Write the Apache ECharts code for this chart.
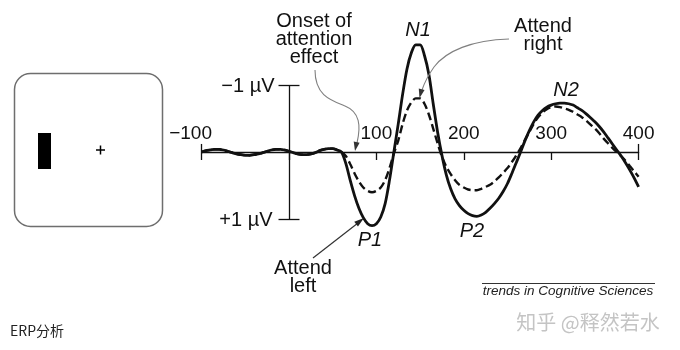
<!DOCTYPE html>
<html>
<head>
<meta charset="utf-8">
<script src="https://cdn.jsdelivr.net/npm/echarts@6/dist/echarts.min.js"></script>
<style>
html,body{margin:0;padding:0;background:#fff;}
#c{width:680px;height:350px;}
</style>
</head>
<body>
<div id="c"></div>
<script>
// time (ms)
const times = [-100,-95,-90,-85,-80,-75,-70,-65,-60,-55,-50,-45,-40,-35,-30,-25,-20,-15,-10,-5,
  0,5,10,15,20,25,30,35,40,45,50,55,60,65,70,75,80,85,90,95,
  100,105,110,115,120,125,130,135,140,145,150,155,160,165,170,175,180,185,190,195,
  200,205,210,215,220,225,230,235,240,245,250,255,260,265,270,275,280,285,290,295,
  300,305,310,315,320,325,330,335,340,345,350,355,360,365,370,375,380,385,390,395,400];
// Attend left (solid), µV, negative up
const attendLeft = [0.00,-0.02,-0.03,-0.04,-0.04,-0.03,-0.01,0.01,0.03,0.04,0.05,0.05,0.04,0.03,0.01,-0.01,-0.03,-0.04,-0.04,-0.03,
  -0.01,0.01,0.03,0.04,0.04,0.03,0.01,-0.02,-0.04,-0.05,-0.05,-0.03,0.00,0.17,0.42,0.65,0.84,0.98,1.07,1.10,
  1.07,0.97,0.77,0.42,0.00,-0.42,-0.86,-1.24,-1.48,-1.60,-1.60,-1.44,-1.16,-0.72,-0.30,0.05,0.34,0.55,0.70,0.80,
  0.87,0.92,0.95,0.96,0.94,0.90,0.84,0.77,0.69,0.59,0.47,0.32,0.16,0.00,-0.17,-0.32,-0.45,-0.55,-0.62,-0.67,
  -0.70,-0.72,-0.73,-0.73,-0.72,-0.70,-0.66,-0.62,-0.57,-0.51,-0.45,-0.38,-0.30,-0.21,-0.12,-0.03,0.06,0.16,0.27,0.39,0.52];
// Attend right (dashed)
const attendRight = [0.00,-0.02,-0.03,-0.04,-0.04,-0.03,-0.01,0.01,0.03,0.04,0.05,0.05,0.04,0.03,0.01,-0.01,-0.03,-0.04,-0.04,-0.03,
  -0.01,0.01,0.03,0.04,0.04,0.03,0.01,-0.02,-0.04,-0.05,-0.05,-0.03,0.00,0.06,0.18,0.32,0.44,0.53,0.58,0.60,
  0.58,0.53,0.42,0.24,0.02,-0.17,-0.42,-0.62,-0.74,-0.80,-0.80,-0.72,-0.56,-0.35,-0.13,0.07,0.22,0.33,0.42,0.49,
  0.53,0.56,0.57,0.57,0.55,0.52,0.49,0.44,0.38,0.31,0.24,0.15,0.05,-0.06,-0.18,-0.30,-0.42,-0.52,-0.59,-0.64,
  -0.67,-0.68,-0.67,-0.65,-0.63,-0.60,-0.56,-0.52,-0.47,-0.41,-0.35,-0.28,-0.20,-0.13,-0.06,0.00,0.06,0.13,0.21,0.29,0.37];
// tick labels
const xTickValues = [-100, 0, 100, 200, 300, 400];
const xTickLabels = ['−100', '', '100', '200', '300', '400'];
const yTickValues = [-1, 1];
const yTickLabels = ['−1 µV', '+1 µV'];

const FONT = '"Liberation Sans", Arial, sans-serif';
const INK = '#111';

const chart = echarts.init(document.getElementById('c'), null, {renderer: 'canvas'});

const pairs = (vals) => times.map((t, i) => [t, vals[i]]);

chart.setOption({
  animation: false,
  backgroundColor: '#fff',
  grid: {left: 201.6, right: 41.4, top: 18, bottom: 64, containLabel: false},
  xAxis: {
    type: 'value', min: -100, max: 400, interval: 100,
    axisLine: {show: true, onZero: true, lineStyle: {color: INK, width: 1.3}},
    axisTick: {show: true, length: 8, inside: false, lineStyle: {color: INK, width: 1.3}},
    splitLine: {show: false},
    axisLabel: {show: false}
  },
  yAxis: {type: 'value', min: -2, max: 2, inverse: true, show: false},
  series: [
    {
      name: 'axis', type: 'line', data: [[0, 0]], showSymbol: false, silent: true,
      lineStyle: {width: 0}, z: 1,
      markLine: {
        silent: true, symbol: ['none', 'none'], label: {show: false},
        lineStyle: {type: 'solid', color: INK, width: 1.3},
        data: [
          [{coord: [0, yTickValues[0]]}, {coord: [0, yTickValues[1]]}],
          [{coord: [-12, yTickValues[0]]}, {coord: [12, yTickValues[0]]}],
          [{coord: [-12, yTickValues[1]]}, {coord: [12, yTickValues[1]]}],
          [{coord: [-100, -0.12]}, {coord: [-100, 0]}],
          [{coord: [400, -0.12]}, {coord: [400, 0]}]
        ]
      }
    },
    {
      name: 'Attend right', type: 'line', data: pairs(attendRight), showSymbol: false, smooth: 0.3,
      lineStyle: {color: INK, width: 2.4, type: [8, 4]}, z: 3
    },
    {
      name: 'Attend left', type: 'line', data: pairs(attendLeft), showSymbol: false, smooth: 0.3,
      lineStyle: {color: INK, width: 2.8}, z: 4
    }
  ]
});

function txt(text, x, y, opt) {
  opt = opt || {};
  return {
    type: 'text', z: 50, silent: true,
    style: Object.assign({
      text: text, x: x, y: y, textAlign: 'center', textVerticalAlign: 'middle',
      fontFamily: FONT, fontSize: 20, fill: INK, lineHeight: 18
    }, opt)
  };
}
function bez(x1, y1, cx1, cy1, cx2, cy2, x2, y2, color) {
  return {type: 'bezierCurve', z: 45, silent: true,
    shape: {x1: x1, y1: y1, cpx1: cx1, cpy1: cy1, cpx2: cx2, cpy2: cy2, x2: x2, y2: y2},
    style: {fill: null, stroke: color, lineWidth: 1.1}};
}
function arrowHead(tipX, tipY, dx, dy, color, len, wid) {
  const L = Math.hypot(dx, dy); const ux = dx / L, uy = dy / L;
  const bx = tipX - ux * len, by = tipY - uy * len;
  const px = -uy * wid / 2, py = ux * wid / 2;
  return {type: 'polygon', z: 50, silent: true,
    shape: {points: [[tipX, tipY], [bx + px, by + py], [bx - px, by - py]]},
    style: {fill: color}};
}

const graphics = [];

// x tick labels above the axis line
xTickValues.forEach((v, i) => {
  if (!xTickLabels[i]) return;
  const p = chart.convertToPixel({gridIndex: 0}, [v, 0]);
  const dx = v < 0 ? -11 : 0;
  graphics.push(txt(xTickLabels[i], p[0] + dx, p[1] - 18, {fontSize: 19}));
});
// y tick labels
yTickValues.forEach((v, i) => {
  const p = chart.convertToPixel({gridIndex: 0}, [-12, v]);
  graphics.push(txt(yTickLabels[i], p[0] - (v < 0 ? 4 : 6), p[1] + 1, {textAlign: 'right'}));
});

graphics.push(
  // stimulus display
  {type: 'rect', z: 40, silent: true, shape: {x: 14.5, y: 73.5, width: 148, height: 153, r: 16},
    style: {fill: '#fff', stroke: '#6e6e6e', lineWidth: 1.5}},
  {type: 'rect', z: 41, silent: true, shape: {x: 38, y: 133, width: 13, height: 36}, style: {fill: '#000'}},
  {type: 'line', z: 41, silent: true, shape: {x1: 96, y1: 150, x2: 105, y2: 150}, style: {stroke: '#000', lineWidth: 1.5}},
  {type: 'line', z: 41, silent: true, shape: {x1: 100.5, y1: 145.5, x2: 100.5, y2: 154.5}, style: {stroke: '#000', lineWidth: 1.5}},
  // annotations
  txt('Onset of\nattention\neffect', 314, 39),
  txt('Attend\nright', 543, 35),
  txt('Attend\nleft', 303, 277),
  txt('N1', 418, 30, {fontStyle: 'italic'}),
  txt('N2', 566, 90, {fontStyle: 'italic'}),
  txt('P1', 370, 240, {fontStyle: 'italic'}),
  txt('P2', 472, 231, {fontStyle: 'italic'}),
  // onset arrow
  bez(315, 70, 315, 95, 330, 100, 345, 106, '#808080'),
  bez(345, 106, 360, 112, 361, 126, 357, 143, '#808080'),
  arrowHead(355, 151, -1.5, 8, '#333', 9, 6),
  // attend right arrow
  bez(509, 39, 472, 40, 446, 51, 434, 67, '#808080'),
  bez(434, 67, 427, 77, 424, 84, 422, 90, '#808080'),
  arrowHead(419.5, 98, -2, 8, '#333', 9, 6),
  // attend left arrow
  {type: 'line', z: 45, silent: true, shape: {x1: 313, y1: 258, x2: 358, y2: 223},
    style: {stroke: '#333', lineWidth: 1.2}},
  arrowHead(364, 218, 45, -35, '#222', 10, 6),
  // journal credit
  {type: 'line', z: 45, silent: true, shape: {x1: 482, y1: 283.5, x2: 655, y2: 283.5}, style: {stroke: '#333', lineWidth: 1}},
  txt('trends in Cognitive Sciences', 568, 291, {fontSize: 13.5, fontStyle: 'italic', fill: '#222'}),
  // watermark & caption
  txt('知乎 @释然若水', 588, 322, {fontSize: 20, fill: '#c4c4c4', fontFamily: '"Noto Sans CJK SC", sans-serif'}),
  txt('ERP分析', 10, 331, {textAlign: 'left', fontSize: 14, fill: '#222', fontFamily: '"Noto Sans CJK SC", sans-serif'})
);

chart.setOption({graphic: graphics});
</script>
</body>
</html>
